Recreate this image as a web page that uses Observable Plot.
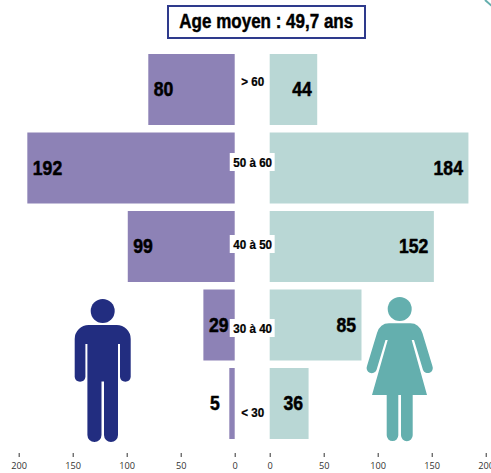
<!DOCTYPE html>
<html><head><meta charset="utf-8">
<script src="https://cdn.jsdelivr.net/npm/d3@7"></script>
<script src="https://cdn.jsdelivr.net/npm/@observablehq/plot@0.6"></script>
<style>
html,body{margin:0;padding:0;background:#fff;overflow:hidden}
#title{box-sizing:border-box;margin:5px 0 0 167px;width:199px;height:34px;border:2px solid #2e3a8c;
font:bold 20px/29px "Liberation Sans",sans-serif;text-align:center;color:#000;-webkit-text-stroke:.45px #000;white-space:nowrap}
#title span{display:inline-block;transform:scaleX(.85);transform-origin:center;margin:0 -20px}
svg{display:block}
</style></head><body>
<div id="title"><span>Age moyen : 49,7 ans</span></div>
<div id="chart"></div>
<script>
const ages = ["> 60", "50 à 60", "40 à 50", "30 à 40", "< 30"];
const hommes = [80, 192, 99, 29, 5];
const femmes = [44, 184, 152, 85, 36];
const ticks = [0, 50, 100, 150, 200];
const gap = 16.2; // half of the central gutter, in axis units

const rowsH = ages.map((age, i) => ({age, v: hommes[i]}));
const rowsF = ages.map((age, i) => ({age, v: femmes[i]}));
const labelOffsets = [-8.5, -6, -2.5, 3, 8.5];
const boxed = ["50 à 60", "40 à 50", "30 à 40"];

const num = {className: "num", fontSize: 20, fontWeight: "bold", fontFamily: '"Liberation Sans"', fill: "#000", stroke: "#000", strokeWidth: 0.5};
const lab = {className: "lab", fontSize: 12.5, fontWeight: "bold", fontFamily: '"Liberation Sans"', fill: "#000", stroke: "#000", strokeWidth: 0.25};

const icons = () => {
  const ns = "http://www.w3.org/2000/svg";
  const g = document.createElementNS(ns, "g");
  g.setAttribute("transform", "translate(0,3)");
  const add = (tag, attrs) => {
    const e = document.createElementNS(ns, tag);
    for (const k in attrs) e.setAttribute(k, attrs[k]);
    g.appendChild(e);
  };
  add("circle", {cx: 102.7, cy: 269, r: 12, fill: "#222d80"});
  add("path", {fill: "#222d80", d:
    "M89,283 H116.5 A14,14 0 0 1 130.7,297 V335 A5.4,5.4 0 0 1 120,335 V302 H118 V393 A7,7 0 0 1 104,393 V339.5 H101.5 V393 A7,7 0 0 1 87.4,393 V302 H85.4 V335 A5.4,5.4 0 0 1 74.7,335 V297 A14,14 0 0 1 89,283 Z"});
  add("circle", {cx: 399.7, cy: 267, r: 12, fill: "#64afae"});
  add("path", {fill: "#64afae", d:
    "M389,281.3 H410.4 Q419,281.3 422.4,291 L432.4,324 A5,5 0 0 1 423,328 L414,298 H411.7 L427,353 H412.7 V393.3 A5.8,5.8 0 0 1 401,393.3 V353 H398.3 V393.3 A5.8,5.8 0 0 1 386.7,393.3 V353 H372 L387.7,298 H385.5 L376.5,328 A5,5 0 0 1 367,324 L377,291 Q380,281.3 389,281.3 Z"});
  return g;
};

const plot = Plot.plot({
  width: 491, height: 434,
  marginLeft: 0, marginRight: 0, marginTop: 15, marginBottom: 20, insetBottom: 14,
  x: {domain: [-233.5, 221.1], range: [0, 491]},
  y: {domain: ages, paddingInner: 0.0955, paddingOuter: 0, round: false, axis: null},
  style: {background: "transparent", overflow: "visible"},
  marks: [
    Plot.barX(rowsH, {x1: -gap, x2: d => -gap - d.v, y: "age", fill: "#8d82b6"}),
    Plot.barX(rowsF, {x1: gap, x2: d => gap + d.v, y: "age", fill: "#b9d7d5"}),
    ...ages.map((age, i) => [
      boxed.includes(age) ? Plot.barX([age], {x1: -20.8, x2: 20.8, y: d => d, fill: "#fff", insetTop: 26.5, insetBottom: 26.5, dy: labelOffsets[i]}) : null,
      Plot.text([age], {x: 0, y: d => d, text: d => d, dy: labelOffsets[i], ...lab})
    ]).flat(),
    Plot.text(rowsH.filter(d => d.v > 5), {x: d => -gap - d.v, y: "age", text: "v", textAnchor: "start", dx: 5, ...num}),
    Plot.text(rowsH.filter(d => d.v <= 5), {x: d => -gap - d.v, y: "age", text: "v", textAnchor: "end", dx: -10, ...num}),
    Plot.text(rowsF, {x: d => gap + d.v, y: "age", text: "v", textAnchor: "end", dx: -6, ...num}),
    Plot.axisX({
      ticks: [...ticks.map(t => -gap - t), ...ticks.map(t => gap + t)],
      tickFormat: t => Math.abs(t) - gap,
      anchor: "bottom", tickSize: 4, tickPadding: 5, fontSize: 9.2,
      fontFamily: '"Open Sans"', stroke: "#333", fill: "#333", label: null
    }),
    icons,
    () => {
      const l = document.createElementNS("http://www.w3.org/2000/svg", "path");
      l.setAttribute("d", "M485,-39 L493,-32");
      l.setAttribute("stroke", "#64afae");
      l.setAttribute("stroke-width", 2);
      l.setAttribute("fill", "none");
      return l;
    }
  ]
});
// No condensed face is installed: narrow the bold face about each text's own anchor.
const narrow = (sel, k) => plot.querySelectorAll(sel + " text").forEach(t => {
  const tr = t.getAttribute("transform") || "";
  t.setAttribute("transform", `${tr} scale(${k},1)`);
});
narrow(".num", 0.88);
narrow(".lab", 0.93);
document.getElementById("chart").appendChild(plot);
</script>
</body></html>
